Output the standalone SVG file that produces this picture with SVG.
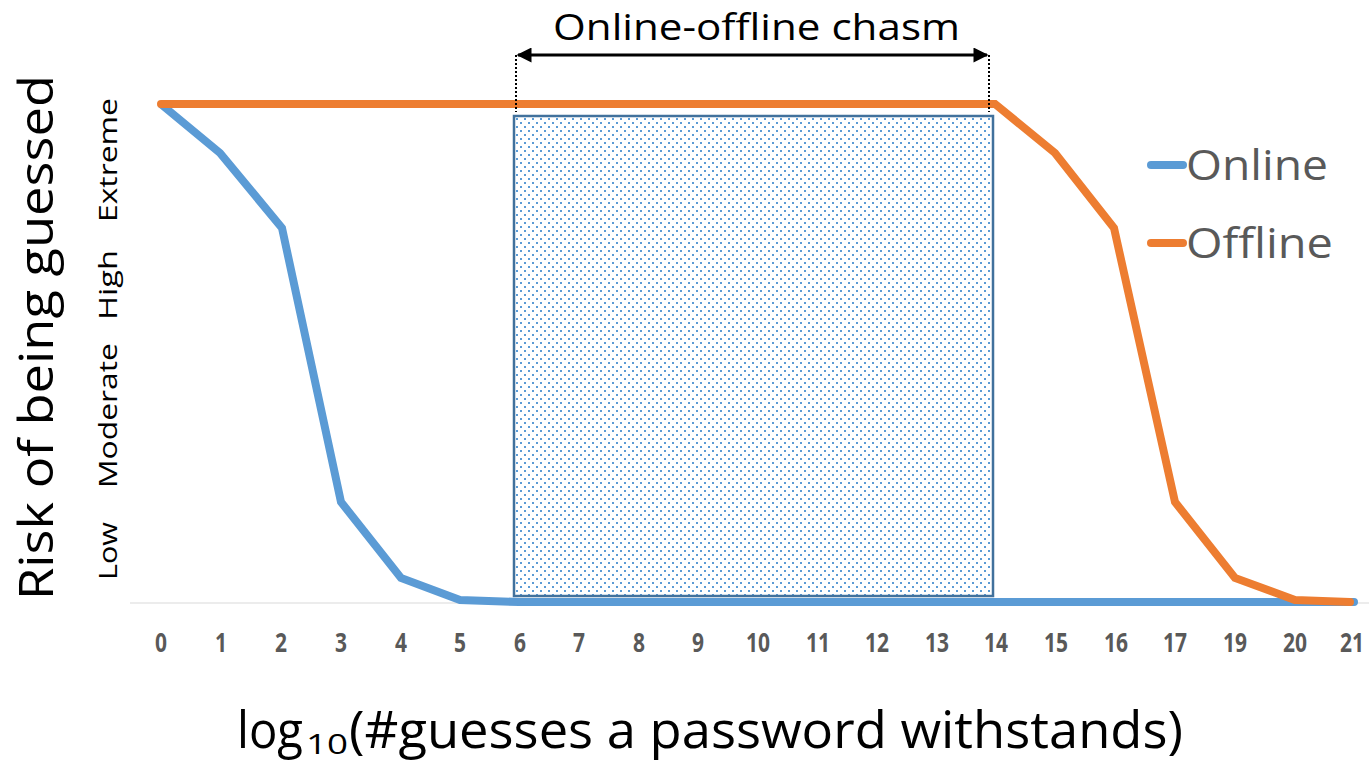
<svg xmlns="http://www.w3.org/2000/svg" width="1369" height="763" viewBox="0 0 1369 763">
<defs>
<pattern id="dots" patternUnits="userSpaceOnUse" width="8" height="8" x="515" y="117">
<rect x="1" y="1" width="2" height="2" fill="#5B9BD5"/>
<rect x="5" y="5" width="2" height="2" fill="#5B9BD5"/>
</pattern>
<marker id="ah" viewBox="0 0 10 10" refX="9" refY="5" markerWidth="5.5" markerHeight="5" orient="auto-start-reverse" markerUnits="strokeWidth">
<path d="M0,0 L10,5 L0,10 z" fill="#000"/>
</marker>
<style>
.tick{font-family:"Open Sans","Liberation Sans",sans-serif;font-weight:bold;font-size:27px;fill:#595959;text-anchor:middle}
.lvl{font-family:"Open Sans","Liberation Sans",sans-serif;font-size:26px;fill:#000}
.leg{font-family:"Open Sans","Liberation Sans",sans-serif;font-size:42px;fill:#595959}
.ln{fill:none;stroke-width:8;stroke-linejoin:miter;stroke-linecap:round}
</style>
</defs>
<rect width="1369" height="763" fill="#fff"/>
<line x1="130" y1="603" x2="1369" y2="603" stroke="#D9D9D9" stroke-width="1"/>
<g id="chasm-box">
<rect x="514" y="116" width="479" height="480" fill="url(#dots)" stroke="#41719C" stroke-width="2.5"/>
</g>
<g id="connectors">
<polyline class="ln" stroke="#5B9BD5" points="162,105 220,153 282,228 341,502 401,578 460,600 519,602 1354,602"/>
<polyline class="ln" stroke="#ED7D31" points="161,104 995,104 1055,153 1114,228 1175,502 1235,578 1295,600 1350,602"/>
<line x1="516" y1="55" x2="516" y2="112" stroke="#000" stroke-width="2" stroke-dasharray="2,2"/>
<line x1="989" y1="55" x2="989" y2="112" stroke="#000" stroke-width="2" stroke-dasharray="2,2"/>
<line x1="518" y1="55" x2="987" y2="55" stroke="#000" stroke-width="3" marker-start="url(#ah)" marker-end="url(#ah)"/>
</g>
<g id="chasm-label">
<text x="553" y="40" font-family="'Open Sans','Liberation Sans',sans-serif" font-size="37" fill="#000" textLength="407" lengthAdjust="spacingAndGlyphs">Online-offline chasm</text>
</g>
<g id="legend">
<line x1="1151" y1="165" x2="1183" y2="165" stroke="#5B9BD5" stroke-width="8" stroke-linecap="round"/>
<text class="leg" x="1186" y="180" textLength="142" lengthAdjust="spacingAndGlyphs">Online</text>
<line x1="1151" y1="243" x2="1183" y2="243" stroke="#ED7D31" stroke-width="8" stroke-linecap="round"/>
<text class="leg" x="1186" y="258" textLength="147" lengthAdjust="spacingAndGlyphs">Offline</text>
</g>
<g id="y-axis">
<text transform="translate(53,600) rotate(-90)" x="0" y="0" font-family="'Open Sans','Liberation Sans',sans-serif" font-size="48" fill="#000" textLength="525" lengthAdjust="spacingAndGlyphs">Risk of being guessed</text>
<text class="lvl" transform="translate(117,580) rotate(-90)" textLength="58" lengthAdjust="spacingAndGlyphs">Low</text>
<text class="lvl" transform="translate(117,488) rotate(-90)" textLength="145" lengthAdjust="spacingAndGlyphs">Moderate</text>
<text class="lvl" transform="translate(117,320) rotate(-90)" textLength="70" lengthAdjust="spacingAndGlyphs">High</text>
<text class="lvl" transform="translate(117,222) rotate(-90)" textLength="124" lengthAdjust="spacingAndGlyphs">Extreme</text>
</g>
<g id="x-ticks">
<text class="tick" x="161" y="652" textLength="12" lengthAdjust="spacingAndGlyphs">0</text>
<text class="tick" x="221" y="652" textLength="12" lengthAdjust="spacingAndGlyphs">1</text>
<text class="tick" x="281" y="652" textLength="12" lengthAdjust="spacingAndGlyphs">2</text>
<text class="tick" x="341" y="652" textLength="12" lengthAdjust="spacingAndGlyphs">3</text>
<text class="tick" x="401" y="652" textLength="12" lengthAdjust="spacingAndGlyphs">4</text>
<text class="tick" x="460" y="652" textLength="12" lengthAdjust="spacingAndGlyphs">5</text>
<text class="tick" x="520" y="652" textLength="12" lengthAdjust="spacingAndGlyphs">6</text>
<text class="tick" x="579" y="652" textLength="12" lengthAdjust="spacingAndGlyphs">7</text>
<text class="tick" x="639" y="652" textLength="12" lengthAdjust="spacingAndGlyphs">8</text>
<text class="tick" x="698" y="652" textLength="12" lengthAdjust="spacingAndGlyphs">9</text>
<text class="tick" x="758" y="652" textLength="24" lengthAdjust="spacingAndGlyphs">10</text>
<text class="tick" x="818" y="652" textLength="24" lengthAdjust="spacingAndGlyphs">11</text>
<text class="tick" x="877" y="652" textLength="24" lengthAdjust="spacingAndGlyphs">12</text>
<text class="tick" x="937" y="652" textLength="24" lengthAdjust="spacingAndGlyphs">13</text>
<text class="tick" x="996" y="652" textLength="24" lengthAdjust="spacingAndGlyphs">14</text>
<text class="tick" x="1056" y="652" textLength="24" lengthAdjust="spacingAndGlyphs">15</text>
<text class="tick" x="1116" y="652" textLength="24" lengthAdjust="spacingAndGlyphs">16</text>
<text class="tick" x="1175" y="652" textLength="24" lengthAdjust="spacingAndGlyphs">17</text>
<text class="tick" x="1235" y="652" textLength="24" lengthAdjust="spacingAndGlyphs">19</text>
<text class="tick" x="1295" y="652" textLength="24" lengthAdjust="spacingAndGlyphs">20</text>
<text class="tick" x="1352" y="652" textLength="24" lengthAdjust="spacingAndGlyphs">21</text>
</g>
<g id="x-title" font-family="'Open Sans','Liberation Sans',sans-serif" fill="#000">
<text x="237" y="748" font-size="52" textLength="66" lengthAdjust="spacingAndGlyphs">log</text>
<text x="306" y="754" font-size="28" textLength="42" lengthAdjust="spacingAndGlyphs">10</text>
<text x="349" y="748" font-size="52" textLength="834" lengthAdjust="spacingAndGlyphs">(#guesses a password withstands)</text>
</g>
</svg>
